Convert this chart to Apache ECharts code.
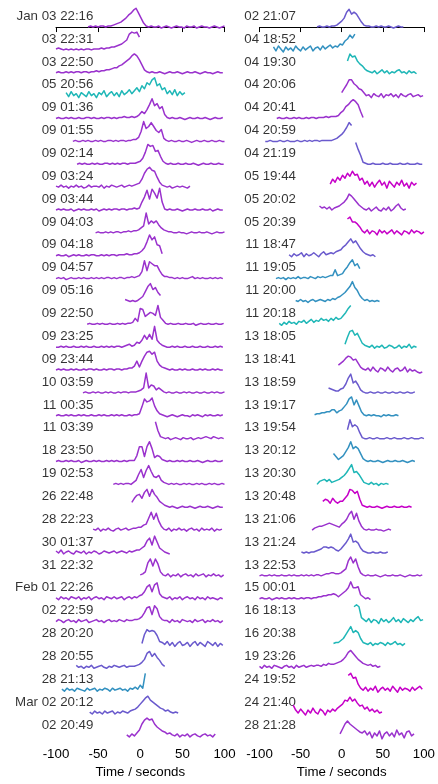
<!DOCTYPE html>
<html><head><meta charset="utf-8">
<script src="https://cdn.jsdelivr.net/npm/echarts@6/dist/echarts.min.js"></script>
<style>html,body{margin:0;padding:0;background:#fff}#c{width:438px;height:784px}</style>
</head><body><div id="c"></div>
<script>
// sampling interval of every trace, seconds
const STEP = 3;

const leftLabels = ["Jan 03 22:16","03 22:31","03 22:50","05 20:56","09 01:36","09 01:55","09 02:14","09 03:24","09 03:44","09 04:03","09 04:18","09 04:57","09 05:16","09 22:50","09 23:25","09 23:44","10 03:59","11 00:35","11 03:39","18 23:50","19 02:53","26 22:48","28 22:23","30 01:37","31 22:32","Feb 01 22:26","02 22:59","28 20:20","28 20:55","28 21:13","Mar 02 20:12","02 20:49"];
const leftStarts = [-62,-100,-100,-88,-100,-80,-75,-100,-100,-53,-100,-100,-18,-63,-100,-100,-68,-100,18,-100,-32,-10,-56,-100,0,-100,-100,2,-76,-93,-60,-16];
const leftValues = [
[0,1,0,1,0,1,1,0,1,1,2,3,4,5,7,9,12,14,17,19,14,9,4,1,0,1,0,0,1,-1,0,1,0,-1,0,1,0,0,-1,1,0,0,1,-1,0,1,0,0,-1,0,1,0,-1,0,1],
[1,2,1,0,1,0,1,0,1,0,1,0,1,1,0,1,1,1,2,1,2,2,3,3,4,5,6,8,10,16,18,17,18,13],
[0,1,0,0,1,0,1,0,1,1,0,1,1,0,1,1,2,1,2,2,3,3,4,5,5,7,8,10,12,14,17,19,17,13,8,3,1,0,1,0,0,1,0,-1,0,1,0,0,1,0,-1,0,1,0,0,1,0,-1,0,1,0,0,-1,0,1,0,0],
[3,-1,4,0,2,-2,3,1,-1,4,0,2,-2,3,1,5,-1,2,4,0,3,-1,5,1,3,6,2,5,8,4,10,7,13,11,16,18,10,12,6,8,2,5,1,6,0,4,1,3],
[0,1,0,0,1,0,1,0,0,1,0,0,1,1,0,1,0,0,1,0,1,1,0,1,0,1,1,2,1,1,2,1,2,4,7,5,9,14,20,13,15,10,12,4,1,0,1,0,0,1,0,-1,0,1,0,0,1,0,0,1,0,-1,0,1,0,0,1],
[0,1,0,0,1,0,1,0,0,1,0,1,0,0,1,1,0,1,0,1,1,0,1,1,2,2,4,10,20,13,15,19,15,11,9,12,3,1,0,1,0,0,1,0,0,1,0,-1,0,1,0,0,1,0,0,1,0,0,1,0,0],
[0,1,0,1,0,0,1,0,1,0,0,1,1,0,1,0,1,0,1,1,0,1,1,1,2,3,6,12,20,18,19,13,14,8,3,1,0,1,0,0,1,0,0,1,0,0,1,0,-1,0,1,0,0,1,0,0,1,0,0],
[1,0,2,0,1,-1,1,0,2,0,1,-1,0,2,0,1,1,0,2,-1,1,0,2,1,0,1,2,0,1,2,1,2,3,4,8,14,18,20,17,16,10,5,2,1,0,1,-1,0,1,0,1,0,-1,1],
[0,1,0,1,0,0,1,-1,0,1,0,1,0,0,1,0,1,-1,0,1,0,1,0,1,1,0,1,1,0,1,1,2,1,2,8,13,20,11,21,17,12,22,8,1,0,1,0,0,1,0,-1,0,1,0,0,1,0,0,1,0,0,1,-1,0,1,0,0],
[0,1,0,0,1,0,1,0,1,1,0,1,1,2,1,2,2,3,5,7,20,9,12,10,12,8,5,3,2,1,1,0,0,1,0,0,-1,0,1,0,0,1,0,0,1,0,-1,0,1,0,0,1],
[0,1,0,0,1,-1,0,1,0,1,0,0,1,0,1,1,0,0,1,0,1,0,1,1,0,1,1,1,2,1,1,2,2,3,5,8,14,21,16,19,11,10,2],
[0,1,0,1,-1,0,1,0,0,1,0,1,0,0,1,0,1,0,1,0,1,1,0,1,0,1,1,0,1,1,2,1,2,3,7,18,8,17,15,13,13,8,4,2,2,1,1,0,1,0,1,0,0,1,2,0,1,0,1,0,0,1,0,1,0,1,0],
[2,1,0,1,0,1,3,5,10,15,18,12,14,9,6],
[0,1,0,0,1,0,1,0,0,1,0,0,1,0,1,0,1,1,2,6,3,16,15,8,10,12,11,9,19,7,4,1,0,1,0,0,1,0,0,1,0,0,1,-1,0,1,0,0,1,0,0,1,0,0,1],
[0,0,1,0,1,0,0,1,0,0,1,0,1,0,0,1,0,0,1,0,1,0,1,0,1,1,0,1,2,3,1,2,5,4,7,12,8,13,8,21,7,4,2,1,0,0,1,0,1,0,0,1,0,0,1,0,0,1,0,0,1,0,0,1,0,1,0],
[0,1,0,1,0,0,1,0,1,0,0,1,0,1,1,0,1,0,0,1,0,1,1,0,1,1,0,1,1,2,2,4,9,3,9,14,18,19,16,18,9,5,3,2,1,0,1,0,0,1,0,1,0,0,1,0,0,1,0,1,0,0,1,0,1,0,0],
[0,1,0,0,1,0,1,0,0,1,0,1,0,0,1,0,1,1,0,1,1,1,2,3,5,20,5,8,7,3,5,3,1,0,1,0,0,1,0,0,1,0,1,0,0,1,0,0,1,0,0,1,0,1,0,0,1],
[0,1,0,0,1,0,1,0,0,1,0,1,0,0,1,0,0,1,0,1,0,0,1,0,1,0,1,0,0,1,0,1,1,2,9,17,14,15,18,10,5,2,1,0,-1,0,1,0,-1,0,1,0,0,-1,1,0,1,0,-1,1,0,1,0,0,1,0,1],
[17,8,2,1,0,1,-1,0,1,0,-1,1,0,0,1,-1,0,1,0,1,2,1,0,2,1,0,1,0],
[0,1,0,0,1,0,1,0,0,1,-1,0,1,0,0,1,0,1,0,0,1,0,1,0,1,0,0,1,0,1,1,1,6,15,15,5,15,20,13,4,6,5,2,1,0,1,0,0,1,0,1,0,0,1,0,0,1,0,-1,0,1,0,0,1,0,0,1],
[0,1,0,1,0,1,1,0,2,4,10,15,7,14,19,13,8,7,9,4,2,1,0,1,0,1,0,0,1,0,1,0,0,1,0,1,0,0,1,0,1,0,0,1,0],
[5,9,12,13,9,15,18,11,18,13,10,6,4,2,1,0,1,0,-1,0,1,0,0,1,0,-1,0,1,0,0,1,0,-1,0,1,0,0],
[1,0,2,-1,1,0,2,0,-1,1,2,0,1,2,0,1,2,2,3,3,5,6,12,18,11,17,9,4,1,0,2,-1,1,0,2,0,1,-1,1,2,0,1,-1,2,0,1,0,2,-1,1,0,1],
[2,0,3,-1,1,2,0,-1,2,1,0,2,-1,1,0,2,1,-1,0,2,1,0,1,2,0,1,2,1,0,2,1,2,3,3,5,7,12,15,8,17,11,5,3,1,0,-1],
[1,2,4,13,17,10,17,12,4,1,0,2,-1,1,0,2,-1,1,2,0,1,-1,2,0,1,2,-1,1,0,2,0,1,-1,1],
[1,-1,2,0,1,-1,2,1,0,2,-1,1,0,2,-1,1,2,0,1,-1,2,1,0,2,0,1,2,-1,1,2,0,2,1,3,4,7,12,14,7,14,16,5,2,1,0,2,-1,1,0,2,-1,1,2,0,1,-1,2,0,1,-1,2,0,1,0,-1,1,0],
[0,2,1,-1,1,2,0,1,-1,2,0,1,2,-1,0,1,2,0,1,-1,1,2,0,1,0,2,1,0,2,1,1,2,2,3,5,9,14,15,7,16,13,5,2,1,1,-1,2,0,1,-1,2,1,0,1,-1,2,0,1,2,-1,1,0,2,0,1,-1,1],
[1,10,15,13,14,13,9,3,2,0,3,-1,2,-2,1,3,-1,0,2,-2,1,3,-1,2,0,-2,3,1,-1,2,-2,1,-1],
[2,0,1,-1,1,0,2,-1,0,1,2,0,-1,1,0,2,1,0,1,2,0,1,1,1,2,3,5,8,14,16,11,14,10,7,3,1],
[1,-1,2,0,1,-1,2,1,0,-1,2,0,1,2,-1,1,0,2,1,-1,2,0,1,2,0,1,-1,2,1,3,1,5,2,17],
[1,-1,2,0,1,-1,2,0,1,2,-1,1,0,2,1,0,2,3,4,6,9,12,15,17,13,11,9,7,5,4,2,3,1,0,1,0],
[1,-1,2,0,3,6,12,16,18,16,17,12,9,7,5,4,2,3,1,0,2,-1,1,0,2,-1,1,2,0,-1,1,2,0,1,-1,2]
];
const leftColorKeys = "pppcpppppppppppppppppppppppssbsp";

const rightLabels = ["02 21:07","04 18:52","04 19:30","04 20:06","04 20:41","04 20:59","04 21:19","05 19:44","05 20:02","05 20:39","11 18:47","11 19:05","11 20:00","11 20:18","13 18:05","13 18:41","13 18:59","13 19:17","13 19:54","13 20:12","13 20:30","13 20:48","13 21:06","13 21:24","13 22:53","15 00:01","16 18:13","16 20:38","19 23:26","24 19:52","24 21:40","28 21:28"];
const rightStarts = [-30,-83,7,0,-79,-93,17,-14,-27,7,-64,-80,-56,-76,4,-4,-16,-33,7,-10,-30,-23,-36,-49,-100,-100,15,-10,-100,8,-59,-2];
const rightValues = [
[0,1,0,0,1,0,1,1,2,4,6,9,15,18,13,15,13,9,5,2,1,1,0,0,1,0,1,0,0,1,0,-1,0,1,0,0],
[3,-1,4,1,-2,3,0,2,-1,4,1,-1,3,0,2,4,-1,2,3,0,4,1,3,5,2,4,3,6,5,9,11,15,12,16],
[12,19,16,17,12,9,7,4,2,1,0,2,-1,1,3,0,2,-1,1,0,2,3,0,1,-1,2,0,1,-1],
[3,7,11,16,16,12,10,7,6,3,0,1,-2,2,0,-1,2,-2,1,0,2,-1,1,-2,2,0,-1,1,2,-1,0,1,-1,0],
[0,1,0,0,1,0,0,1,0,1,0,0,1,0,1,1,0,1,1,1,2,1,2,2,2,3,6,8,12,14,17,19,17,14,7,1],
[0,0,1,0,0,0,1,0,0,1,0,0,0,1,0,0,1,0,1,0,1,1,0,1,1,1,1,1,2,3,5,7,10,14,19,16],
[22,15,9,2,1,0,0,1,0,0,0,1,0,0,1,0,0,0,1,0,0,1,0,0,0,1,0,0],
[3,8,5,10,7,12,9,14,11,16,12,13,7,9,3,6,1,5,0,4,7,2,5,-1,6,3,0,5,2,7,1,4,-1,5,2,4],
[4,2,3,1,3,0,2,3,4,6,8,11,16,14,11,8,5,3,1,0,2,-1,1,3,0,-1,2,0,3,-1,1,4,6,2,0,1],
[14,16,11,11,9,6,2,0,3,-1,2,1,-2,3,0,2,-1,1,3,-1,2,0,-2,2,1,-1,3,0,2,1,-1,1],
[1,-1,2,0,1,3,-1,2,0,1,3,1,-1,2,4,1,2,3,2,4,5,6,9,11,14,17,13,15,11,7,4,2,1,0,1,-1],
[0,1,0,1,-1,1,0,1,0,2,0,1,1,0,2,1,0,2,1,2,1,2,3,3,9,3,4,5,9,12,16,19,13,15,10],
[1,0,2,0,1,-1,1,2,0,1,2,1,0,2,1,3,2,4,5,7,9,12,15,20,14,11,6,3,1,2,0,1,0,1,0],
[1,-1,2,0,3,1,2,0,3,2,4,1,3,5,2,4,3,6,4,5,3,6,4,7,5,6,9,12,16,19],
[3,10,16,17,12,14,9,4,2,1,0,2,-1,1,0,2,-1,0,2,1,-1,0,2,-1,1,0,3,-1,1,0],
[5,7,9,12,14,13,10,11,7,3,1,0,2,-1,3,0,-2,2,1,-1,3,0,-2,1,2,-1,0,3,-2,1,-1,0,-2,-3,-2],
[5,4,3,2,2,4,5,9,15,19,10,12,8,3,1,0,0,1,0,0,1,0,0,1,0,0,1,0,0,1,0,0,1,0,0,1],
[1,2,2,3,3,4,4,6,6,3,5,6,9,12,17,19,11,16,10,4,1,0,1,0,1,0,0,-1,1,0,1,0,0,1,0],
[9,19,12,14,12,6,1,0,0,1,0,0,1,0,0,0,1,0,0,1,0,0,0,1,0,0,1,0,0,0,1,0],
[8,5,2,4,6,10,14,20,13,15,13,8,3,1,0,1,0,0,1,0,-1,0,1,0,0,1,0,0,1,0,-1,0,1,0],
[0,3,4,5,3,5,2,3,4,5,7,9,12,16,20,12,13,10,6,2,1,0,2,0,1,-1,1,0,1,0],
[6,8,7,4,9,6,4,6,6,9,12,18,17,14,16,8,2,1,0,1,0,0,1,0,-1,0,1,0,0,1,0,0,1,0,0,1,0],
[0,2,3,4,4,5,6,7,6,5,4,3,6,8,11,16,19,11,17,9,4,1,0,1,0,0,1,0,0,-1,0,1,0],
[1,0,1,0,1,1,2,3,4,6,6,5,6,5,3,2,4,7,10,14,19,11,12,10,5,2,1,0,0,1,0,0,1,0,0,1],
[0,1,0,0,1,0,1,0,0,1,0,0,1,0,1,0,0,1,0,1,0,1,0,1,1,0,1,2,2,3,3,2,2,3,5,7,15,19,13,17,9,3,1,0,1,0,0,1,0,-1,0,1,0,0,1,0,0,1,0,-1,0,1,0,0,1,0,1],
[0,1,0,0,1,-1,0,1,0,1,0,0,1,0,1,0,0,1,0,1,1,0,1,1,2,2,3,3,4,4,5,4,2,4,6,8,11,17,11,11,12,4,2,0,1,-1],
[15,17,15,4,2,0,3,-1,2,1,-2,3,0,2,-1,1,4,0,2,-1,3,1,-1,2,0,3,5,1,2],
[1,2,2,4,6,10,14,18,12,14,12,6,2,1,0,2,-1,1,0,2,1,-1,2,0,1,3,0,1,-1,1],
[1,-1,2,0,1,-1,2,1,0,-1,1,2,0,1,-1,2,0,1,2,0,1,2,1,2,2,1,3,2,4,3,3,4,5,6,8,11,15,17,14,11,8,6,4,3,2,3,1,2,0,1],
[15,17,12,13,6,2,0,3,-1,2,0,4,-2,1,3,0,2,-1,4,1,-2,3,0,2,1,-1,3,0,2,4,1],
[8,3,0,4,1,-2,3,0,5,1,-1,4,2,-2,3,1,4,2,5,7,9,13,12,16,12,14,10,7,8,4,6,2,4,1,3,0,1],
[2,7,12,15,12,10,8,6,4,3,5,1,4,-2,3,0,5,-3,2,4,0,3,-1,6,1,3,-2,4,5,0,2]
];
const rightColorKeys = "sbcppssmpmsbbccpsbsbcmpsppccpmmp";

const xTicks = [-100, -50, 0, 50, 100];
const xTitle = "Time / seconds";

// ---- styling / layout ----
const PALETTE = { p: '#9A32CD', s: '#6A5ACD', c: '#1FB7B7', b: '#3391C0', m: '#C600C8' };
const FONT = '"Liberation Sans", Arial, Helvetica, sans-serif';
const ROW = 23.07;          // vertical offset between traces (px units)
const LABEL_LIFT = 11;      // label sits above its trace baseline
const LABEL_X = -55;        // label right edge, in axis seconds
const GRID_H = 746.7;
const Y_MAX = 27.3;

const chart = echarts.init(document.getElementById('c'), null, { renderer: 'canvas' });

function panel(labels, starts, values, keys, g) {
  const out = [];
  out.push({
    type: 'scatter', xAxisIndex: g, yAxisIndex: g, silent: true, z: 2,
    symbolSize: 1, itemStyle: { color: 'rgba(0,0,0,0)' },
    data: labels.map((l, i) => [LABEL_X, -i * ROW + LABEL_LIFT, l]),
    label: { show: true, position: 'left', distance: 0, formatter: p => p.data[2],
             fontFamily: FONT, fontSize: 13.3, color: '#000' }
  });
  values.forEach((vals, i) => {
    out.push({
      type: 'line', xAxisIndex: g, yAxisIndex: g, silent: true, z: 3,
      showSymbol: false, symbol: 'none', clip: false,
      lineStyle: { width: 1.5, color: PALETTE[keys[i]], join: 'round' },
      data: vals.map((v, k) => [starts[i] + k * STEP, -i * ROW + v])
    });
  });
  return out;
}

function xAxis(g) {
  return {
    type: 'value', gridIndex: g, min: xTicks[0], max: xTicks[xTicks.length - 1],
    interval: xTicks[1] - xTicks[0],
    axisLine: { show: true, lineStyle: { color: '#000', width: 1 } },
    axisTick: { show: true, length: 5, lineStyle: { color: '#000', width: 1 } },
    axisLabel: { fontFamily: FONT, fontSize: 13.3, color: '#000', margin: 8 },
    splitLine: { show: false },
    name: xTitle, nameLocation: 'middle', nameGap: 25,
    nameTextStyle: { fontFamily: FONT, fontSize: 13.3, color: '#000' }
  };
}
function yAxis(g) {
  return { type: 'value', gridIndex: g, min: Y_MAX - GRID_H, max: Y_MAX, show: false, splitLine: { show: false } };
}

chart.setOption({
  animation: false,
  backgroundColor: '#fff',
  grid: [
    { left: 56, width: 168.5, top: 0, height: GRID_H },
    { left: 259.5, width: 168.5, top: 0, height: GRID_H }
  ],
  xAxis: [xAxis(0), xAxis(1)],
  yAxis: [yAxis(0), yAxis(1)],
  series: [].concat(panel(leftLabels, leftStarts, leftValues, leftColorKeys, 0),
                    panel(rightLabels, rightStarts, rightValues, rightColorKeys, 1))
});
</script></body></html>
